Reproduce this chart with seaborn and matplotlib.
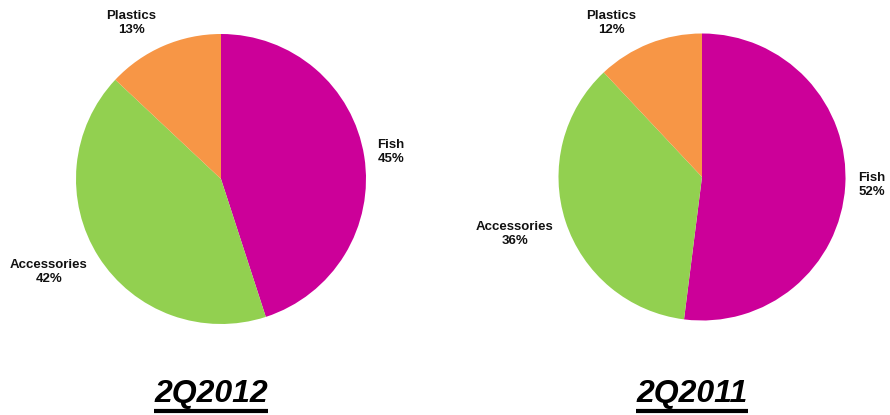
import numpy as np
import matplotlib
matplotlib.use("Agg")
import matplotlib.pyplot as plt
from matplotlib.lines import Line2D
import seaborn as sns

# Sales mix by product segment
categories = ["Fish", "Accessories", "Plastics"]
share_2q2012 = [45, 42, 13]
share_2q2011 = [52, 36, 12]
period_labels = ["2Q2012", "2Q2011"]

sns.set_theme(style="white")
plt.rcParams["font.family"] = ["Liberation Sans", "DejaVu Sans"]

palette = sns.color_palette(["#CC0099", "#92D050", "#F79646"])

W, H = 890, 415
fig = plt.figure(figsize=(W / 100, H / 100), dpi=100)
fig.patch.set_facecolor("white")

# pie centre/radius in pixels (x from left, y from top), title x,
# and label anchors in units of the pie radius
layout = [
    dict(cx=221, cy=179, r=145, tx=211,
         labels={"Fish": (1.17, 0.186), "Accessories": (-1.186, -0.64), "Plastics": (-0.62, 1.076)}),
    dict(cx=702, cy=177, r=143.5, tx=692,
         labels={"Fish": (1.185, -0.056), "Accessories": (-1.303, -0.397), "Plastics": (-0.634, 1.073)}),
]

for values, period, lay in zip([share_2q2012, share_2q2011], period_labels, layout):
    cx, cy, r = lay["cx"], lay["cy"], lay["r"]
    ax = fig.add_axes([(cx - r) / W, 1 - (cy + r) / H, 2 * r / W, 2 * r / H])
    wedges, _ = ax.pie(values, colors=palette, startangle=90, counterclock=False,
                       radius=1.0, wedgeprops=dict(linewidth=0))
    ax.set_xlim(-1, 1)
    ax.set_ylim(-1, 1)
    ax.set_aspect("equal")
    ax.axis("off")
    for cat, val in zip(categories, values):
        lx, ly = lay["labels"][cat]
        ax.text(lx, ly, f"{cat}\n{val}%", ha="center", va="center",
                fontsize=9.5, fontweight="bold", color="#111111",
                linespacing=1.25, clip_on=False)
    fig.text(lay["tx"] / W, 1 - 394 / H, period, ha="center", va="center",
             fontsize=23, fontweight="bold", fontstyle="italic", color="black")

# underline the period titles
fig.canvas.draw()
renderer = fig.canvas.get_renderer()
for t in fig.texts:
    bb = t.get_window_extent(renderer)
    y = 1 - 411 / H
    fig.add_artist(Line2D([bb.x0 / W, bb.x1 / W], [y, y], transform=fig.transFigure,
                          color="black", linewidth=3.0, solid_capstyle="butt"))

fig.savefig("out.png", dpi=100, facecolor="white")
